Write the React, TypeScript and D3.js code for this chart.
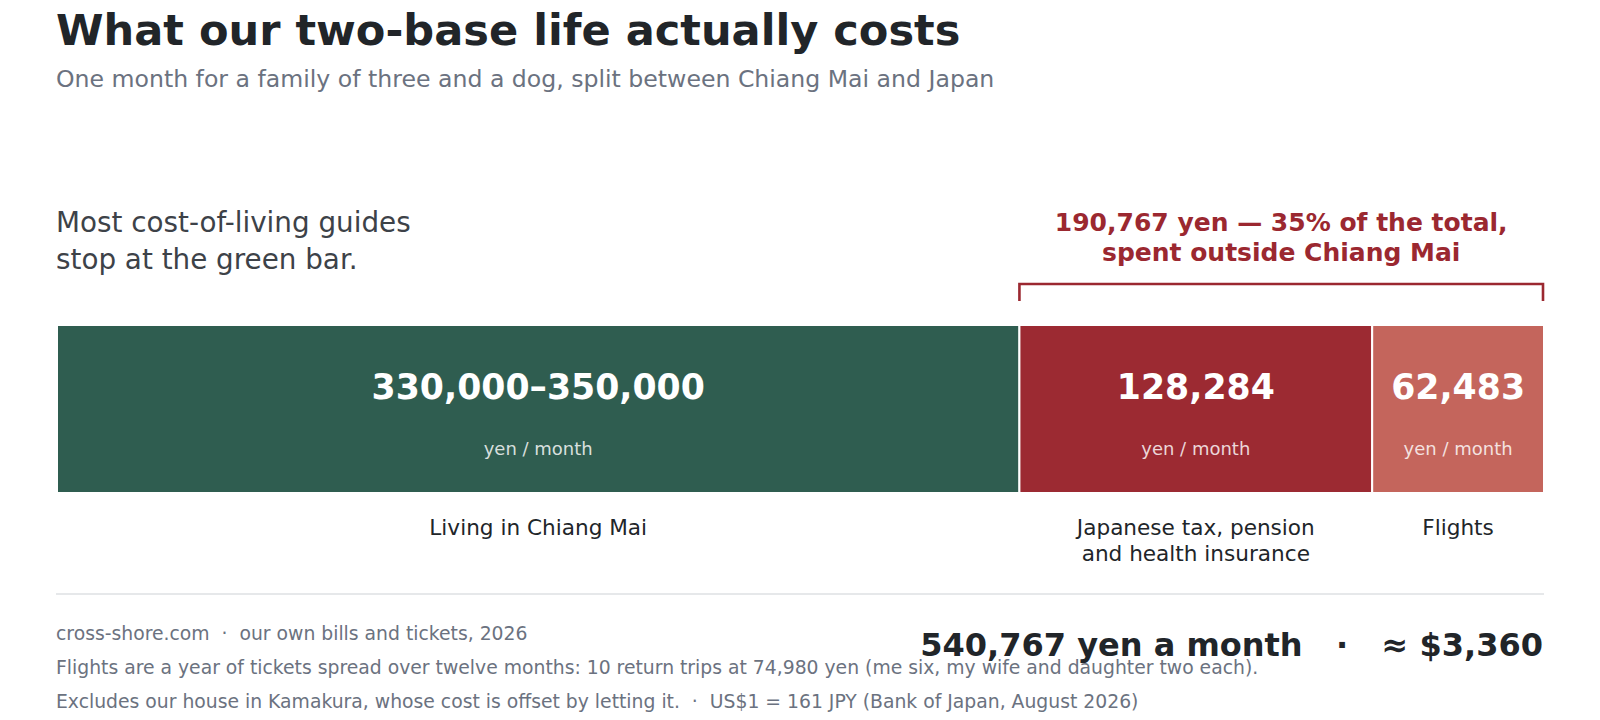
import React from "react";
import * as d3 from "d3";

const categories = ["Living in Chiang Mai", "Japanese tax, pension\nand health insurance", "Flights"];
const values = [350000, 128284, 62483];
const valueLabels = ["330,000–350,000", "128,284", "62,483"];
const colors = ["#2f5d50", "#9c2a32", "#c4655c"];
const unitLabel = "yen / month";
const outsideTotal = 190767;
const outsideShare = "35%";
const grandTotal = 540767;
const usdTotal = "$3,360";
const footerLines = [
  "cross-shore.com  ·  our own bills and tickets, 2026",
  "Flights are a year of tickets spread over twelve months: 10 return trips at 74,980 yen (me six, my wife and daughter two each).",
  "Excludes our house in Kamakura, whose cost is offset by letting it.  ·  US$1 = 161 JPY (Bank of Japan, August 2026)",
];

const W = 1600;
const H = 720;
const FONT = "'DejaVu Sans', sans-serif";
const LEFT = 57;
const RIGHT = 1544;
const BAR_TOP = 325;
const BAR_H = 168;

export default function App() {
  const total = d3.sum(values);
  const x = d3.scaleLinear().domain([0, total]).range([LEFT, RIGHT]);
  const starts = values.map((_, i) => d3.sum(values.slice(0, i)));
  const fmt = d3.format(",");
  const bx0 = x(starts[1]);
  const bx1 = x(total) - 1;
  const bracketPath = d3.path();
  bracketPath.moveTo(bx0, 301);
  bracketPath.lineTo(bx0, 284);
  bracketPath.lineTo(bx1, 284);
  bracketPath.lineTo(bx1, 301);

  return (
    <svg width={W} height={H} style={{ position: "absolute", left: 0, top: 0, background: "#fff" }} fontFamily={FONT}>
      <text x={56} y={45} fontSize={43.1} fontWeight="bold" fill="#212529">
        What our two-base life actually costs
      </text>
      <text x={56} y={87} fontSize={23.6} fill="#6b7280">
        One month for a family of three and a dog, split between Chiang Mai and Japan
      </text>

      <text x={56} y={232} fontSize={27.8} fill="#3d4248">
        Most cost-of-living guides
      </text>
      <text x={56} y={269} fontSize={27.8} fill="#3d4248">
        stop at the green bar.
      </text>

      <g fill="#9b2830" fontSize={25} fontWeight="bold" textAnchor="middle">
        <text x={(bx0 + bx1) / 2} y={231}>
          {`${fmt(outsideTotal)} yen — ${outsideShare} of the total,`}
        </text>
        <text x={(bx0 + bx1) / 2} y={261}>
          spent outside Chiang Mai
        </text>
      </g>
      <path d={bracketPath.toString()} fill="none" stroke="#9b2830" strokeWidth={2.6} />

      {values.map((v, i) => {
        const x0 = x(starts[i]);
        const x1 = x(starts[i] + v);
        const cx = (x0 + x1) / 2;
        const lines = categories[i].split("\n");
        return (
          <g key={i}>
            <rect x={x0} y={BAR_TOP} width={x1 - x0} height={BAR_H} fill={colors[i]} stroke="#fff" strokeWidth={2} />
            <text x={cx} y={399} textAnchor="middle" fontSize={34.7} fontWeight="bold" fill="#fff">
              {valueLabels[i]}
            </text>
            <text x={cx} y={455} textAnchor="middle" fontSize={18} fill="#fff" fillOpacity={0.82}>
              {unitLabel}
            </text>
            {lines.map((l, j) => (
              <text key={j} x={cx} y={535 + j * 26} textAnchor="middle" fontSize={21.6} fill="#212529">
                {l}
              </text>
            ))}
          </g>
        );
      })}

      <line x1={56} x2={RIGHT} y1={594} y2={594} stroke="#dee0e3" strokeWidth={1.5} />

      {footerLines.map((l, i) => (
        <text key={i} x={56} y={640 + i * 34} fontSize={18.8} fill="#6b7280" style={{ whiteSpace: "pre" }}>
          {l}
        </text>
      ))}
      <text x={RIGHT - 1} y={656} textAnchor="end" fontSize={32} fontWeight="bold" fill="#212529" style={{ whiteSpace: "pre" }}>
        {`${fmt(grandTotal)} yen a month   ·   ≈ ${usdTotal}`}
      </text>
    </svg>
  );
}
